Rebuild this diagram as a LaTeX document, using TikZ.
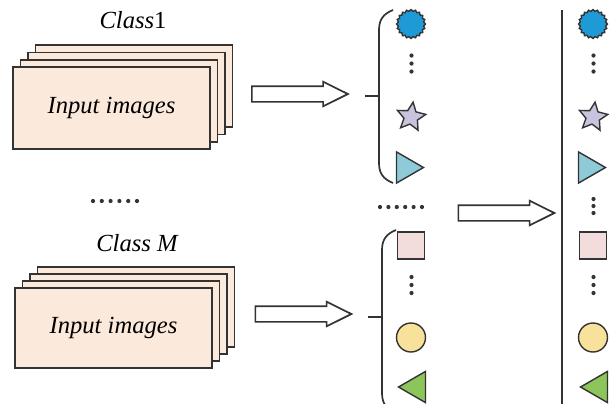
\documentclass[tikz,border=0pt]{standalone}
\usepackage{fontspec}
\setmainfont{Liberation Serif}
\newfontfamily\lblfont{Liberation Serif}
\usetikzlibrary{shapes.geometric,shapes.arrows}

\definecolor{lineC}{HTML}{333333}
\definecolor{sheetC}{HTML}{FBE9DC}
\definecolor{burstC}{HTML}{1E9BD7}
\definecolor{starC}{HTML}{C9C3DD}
\definecolor{triRC}{HTML}{8ECAD8}
\definecolor{sqC}{HTML}{F2DCDC}
\definecolor{circC}{HTML}{F8E19A}
\definecolor{triLC}{HTML}{8CC65A}

\tikzset{
  sheet/.style={draw=lineC, fill=sheetC, line width=0.85pt},
  fatarrow/.style={single arrow, draw=lineC, fill=white, line width=0.85pt,
    minimum height=48pt, inner xsep=0pt, inner ysep=3.5pt,
    single arrow head extend=2.25pt, single arrow tip angle=53},
  brk/.style={draw=lineC, line width=0.85pt},
  sym/.style={draw=lineC, line width=0.7pt, inner sep=0pt},
  burst/.style={sym, star, star points=20, star point ratio=1.14,
    minimum size=14.5pt, fill=burstC},
  starp/.style={sym, star, star points=5, star point ratio=2.1,
    minimum size=15pt, fill=starC, rotate=-8},
  triR/.style={sym, regular polygon, regular polygon sides=3,
    shape border rotate=-90, minimum size=18pt, fill=triRC},
  triL/.style={sym, regular polygon, regular polygon sides=3,
    shape border rotate=90, minimum size=18pt, fill=triLC},
  sqr/.style={sym, rectangle, minimum size=13.5pt, fill=sqC},
  circ/.style={sym, circle, minimum size=14.5pt, fill=circC},
  lbl/.style={font=\lblfont\fontsize{12.3}{14}\selectfont\itshape, inner sep=0pt},
  dotty/.style={fill=lineC}
}

\begin{document}
\begin{tikzpicture}[x=0.5pt,y=-0.5pt]

  \useasboundingbox (0,0) rectangle (611,403);

  % Stacks of images: back sheets, then the front one
  \foreach \k in {3,2,1}{
    \draw[sheet] ({13+7.5*\k}, {67-7.3*\k}) rectangle +(197,82);
    \draw[sheet] ({15+7.5*\k}, {288-7*\k}) rectangle +(197,80);
  }
  \node[sheet, minimum width=98.5pt, minimum height=41pt, lbl] (imgA) at (111.5, 108) {Input images};
  \node[sheet, minimum width=98.5pt, minimum height=40pt, lbl] (imgM) at (113.5, 328) {Input images};

  \node[lbl] (clsA) at (133, 20) {Class\upshape 1};
  \node[lbl] (clsM) at (137, 243) {Class M};

  \foreach \i in {0,...,5}{
    \fill[dotty] ({93+8.8*\i}, 201) circle[radius=1.05pt];
    \fill[dotty] ({380+8.4*\i}, 207) circle[radius=1.05pt];
  }

  % Block arrows
  \node[fatarrow] (arrA) at (292, 94) {};
  \node[fatarrow] (arrM) at (295.5, 314) {};
  \node[fatarrow] (arrAll) at (498.5, 213) {};

  % Brackets with their ticks
  \coordinate (tickA) at (379, 96);
  \coordinate (tickM) at (382, 317);
  \draw[brk] (393,10) .. controls (383,14) and (379,20) .. (379,30)
    -- (379,163) .. controls (379,173) and (383,179) .. (393,183);
  \draw[brk] (tickA) -- ++(-14,0);
  \draw[brk] (396,230) .. controls (386,234) and (382,240) .. (382,250)
    -- (382,393) .. controls (382,403) and (386,409) .. (396,413);
  \draw[brk] (tickM) -- ++(-14,0);

  % Merged set
  \draw[brk] (562,10) -- (562,410);

  % Class symbols, per column
  \foreach \cx/\col in {411/a, 593/b}{
    \node[burst] (burst\col) at (\cx, 24) {};
    \node[starp] (star\col) at (\cx, 117) {};
    \node[triR] (triR\col) at ({\cx-5.5}, 167.5) {};
    \node[sqr] (sq\col) at (\cx, 245.5) {};
    \node[circ] (circ\col) at (\cx, 337.5) {};
    \node[triL] (triL\col) at ({\cx+5.5}, 387) {};
    \foreach \yv in {55.5, 63.5, 71.5, 277, 285, 293}{
      \fill[dotty] ({\cx+0.5}, \yv) circle[radius=1.05pt];
    }
  }
  \foreach \yv in {199, 206, 213}{
    \fill[dotty] (593.5, \yv) circle[radius=1.05pt];
  }

\end{tikzpicture}
\end{document}
